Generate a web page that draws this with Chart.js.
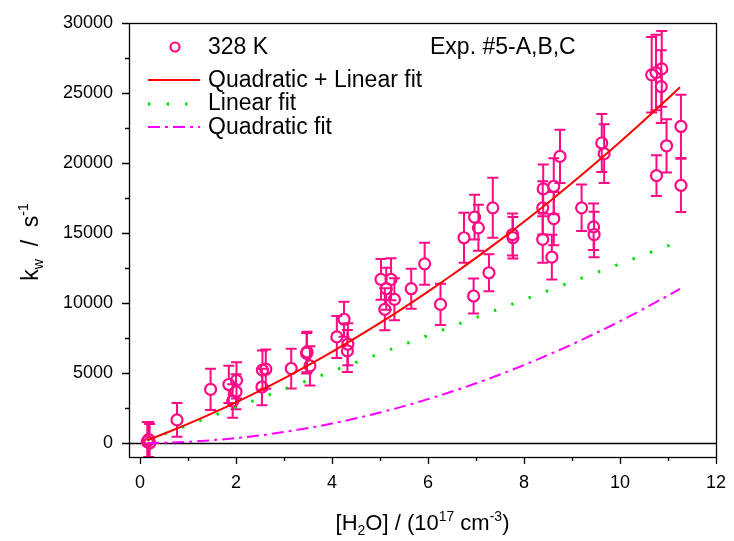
<!DOCTYPE html>
<html><head><meta charset="utf-8">
<script src="https://cdn.jsdelivr.net/npm/chart.js@4/dist/chart.umd.min.js"></script>
<style>html,body{margin:0;padding:0;background:#fff}</style>
</head><body>
<canvas id="c" width="734" height="541"></canvas>
<script>
// ---- data ----
const waterConc = [0.15, 0.18, 0.20, 0.77, 1.47, 1.85, 2.01, 2.00, 1.93, 2.54, 2.55, 2.62, 3.15, 3.47, 3.48, 3.54, 4.10, 4.25, 4.33, 4.32,
  5.02, 5.13, 5.23, 5.10, 5.30, 5.65, 5.93, 6.26, 6.75, 6.97, 7.05, 6.95, 7.27, 7.35, 7.76, 7.77, 8.39, 8.39, 8.40, 8.62, 8.62, 8.58, 8.75,
  9.20, 9.45, 9.46, 9.62, 9.67, 10.66, 10.75, 10.87, 10.86, 10.76, 10.97, 11.27, 11.27];
const kw = [100, 250, 0, 1650, 3830, 4180, 4470, 3660, 3000, 4000, 5200, 5270, 5320, 6410, 6500, 5510, 7575, 8840, 7060, 6580,
  11690, 11020, 11690, 9550, 10260, 11020, 12800, 9900, 14660, 16130, 15370, 10500, 12160, 16800, 14890, 14660, 14540, 16800, 18150, 18340, 16030, 13280, 20470,
  16800, 15440, 14890, 21430, 20670, 26300, 26460, 26720, 25460, 19100, 21230, 22610, 18400];
const kwErr = [1400, 1250, 1350, 1200, 1470, 1330, 1300, 1250, 1200, 1300, 1400, 1400, 1420, 1450, 1450, 1400, 1500, 1250, 1500, 1500,
  1450, 1500, 1500, 1500, 1500, 1430, 1500, 1480, 1780, 1600, 1640, 1250, 1320, 2140, 1500, 1480, 1660, 1900, 1750, 2000, 1900, 1600, 1900,
  1660, 1660, 1620, 2070, 2100, 2700, 2700, 2700, 2600, 1450, 1900, 2260, 1900];
const fitX = [0.15, 0.5, 1, 1.5, 2, 2.5, 3, 3.5, 4, 4.5, 5, 5.5, 6, 6.5, 7, 7.5, 8, 8.5, 9, 9.5, 10, 10.5, 11, 11.25];
const fitQuadLin = [194, 662, 1367, 2116, 2908, 3744, 4623, 5546, 6512, 7522, 8575, 9672, 10812, 11996, 13223, 14494, 15808, 17166, 18567, 20012, 21500, 23032, 24607, 25411];
const fitQuad = [2, 22, 87, 196, 348, 544, 783, 1066, 1392, 1762, 2175, 2632, 3132, 3676, 4263, 4894, 5568, 6286, 7047, 7852, 8700, 9592, 10527, 11011];
const linX = [0.15, 11.2];
const fitLin = [192, 14336];
const xMajorTicks = [0, 2, 4, 6, 8, 10, 12];
const xMinorTicks = [1, 3, 5, 7, 9, 11];
const yMajorTicks = [0, 5000, 10000, 15000, 20000, 25000, 30000];
const yMinorTicks = [2500, 7500, 12500, 17500, 22500, 27500];

const PINK = '#ff0a84';
const FONT = "'Liberation Sans', Arial, sans-serif";

const toPts = (xs, ys) => xs.map((x, i) => ({x: x, y: ys[i]}));

function richText(ctx, parts, x, y, align, base) {
  let w = 0;
  const sized = parts.map(p => {
    const sz = p.mode === 'n' ? base : Math.round(base * 0.62);
    ctx.font = sz + 'px ' + FONT;
    const pw = ctx.measureText(p.t).width;
    w += pw;
    return {p, sz, pw};
  });
  let cx = align === 'center' ? x - w / 2 : x;
  ctx.textBaseline = 'alphabetic';
  ctx.textAlign = 'left';
  sized.forEach(s => {
    ctx.font = s.sz + 'px ' + FONT;
    let dy = 0;
    if (s.p.mode === 'sub') dy = base * 0.23;
    if (s.p.mode === 'sup') dy = -base * 0.42;
    ctx.fillText(s.p.t, cx, y + dy);
    cx += s.pw;
  });
}

const decorPlugin = {
  id: 'decor',
  beforeDatasetsDraw(chart) {
    const ctx = chart.ctx, xs = chart.scales.x, ys = chart.scales.y, a = chart.chartArea;
    ctx.save();
    ctx.beginPath(); ctx.rect(a.left, a.top, a.right - a.left, a.bottom - a.top); ctx.clip();
    // zero line
    ctx.strokeStyle = '#000'; ctx.lineWidth = 1.3;
    const y0 = Math.round(ys.getPixelForValue(0)) + 0.5;
    ctx.beginPath(); ctx.moveTo(a.left, y0); ctx.lineTo(a.right, y0); ctx.stroke();
    // error bars
    ctx.strokeStyle = PINK; ctx.lineWidth = 2;
    const r = 5.5;
    waterConc.forEach((xv, i) => {
      const px = xs.getPixelForValue(xv);
      const cy = ys.getPixelForValue(kw[i]);
      const top = ys.getPixelForValue(kw[i] + kwErr[i]);
      const bot = ys.getPixelForValue(kw[i] - kwErr[i]);
      ctx.beginPath();
      ctx.moveTo(px, top); ctx.lineTo(px, cy - r);
      ctx.moveTo(px, cy + r); ctx.lineTo(px, bot);
      ctx.moveTo(px - 5.5, top); ctx.lineTo(px + 5.5, top);
      ctx.moveTo(px - 5.5, bot); ctx.lineTo(px + 5.5, bot);
      ctx.stroke();
    });
    ctx.restore();
  },
  afterDraw(chart) {
    const ctx = chart.ctx, xs = chart.scales.x, ys = chart.scales.y, a = chart.chartArea;
    ctx.save();
    // frame
    ctx.strokeStyle = '#000'; ctx.lineWidth = 1.3;
    ctx.strokeRect(Math.round(a.left) + 0.5, Math.round(a.top) + 0.5, Math.round(a.right - a.left), Math.round(a.bottom - a.top));
    // ticks
    ctx.beginPath();
    xMajorTicks.forEach(v => { const p = Math.round(xs.getPixelForValue(v)) + 0.5; ctx.moveTo(p, a.bottom); ctx.lineTo(p, a.bottom + 7); });
    xMinorTicks.forEach(v => { const p = Math.round(xs.getPixelForValue(v)) + 0.5; ctx.moveTo(p, a.bottom); ctx.lineTo(p, a.bottom + 4); });
    yMajorTicks.forEach(v => { const p = Math.round(ys.getPixelForValue(v)) + 0.5; ctx.moveTo(a.left, p); ctx.lineTo(a.left - 7, p); });
    yMinorTicks.forEach(v => { const p = Math.round(ys.getPixelForValue(v)) + 0.5; ctx.moveTo(a.left, p); ctx.lineTo(a.left - 4, p); });
    ctx.stroke();
    // axis titles
    ctx.fillStyle = '#000';
    richText(ctx, [{t:'[H', mode:'n'}, {t:'2', mode:'sub'}, {t:'O] / (10', mode:'n'}, {t:'17', mode:'sup'}, {t:' cm', mode:'n'}, {t:'-3', mode:'sup'}, {t:')', mode:'n'}], (a.left + a.right) / 2, 530, 'center', 22);
    ctx.save();
    ctx.translate(38, 242);
    ctx.rotate(-Math.PI / 2);
    richText(ctx, [{t:'k', mode:'n'}, {t:'w', mode:'sub'}, {t:'  /  s', mode:'n'}, {t:'-1', mode:'sup'}], 0, 0, 'center', 23);
    ctx.restore();
    // legend
    ctx.font = '23px ' + FONT; ctx.textBaseline = 'middle'; ctx.textAlign = 'left';
    ctx.strokeStyle = PINK; ctx.lineWidth = 2.2;
    ctx.beginPath(); ctx.arc(175, 47, 4.5, 0, Math.PI * 2); ctx.stroke();
    ctx.fillText('328 K', 208, 48);
    ctx.strokeStyle = '#ff0000'; ctx.lineWidth = 2;
    ctx.beginPath(); ctx.moveTo(148, 80); ctx.lineTo(200, 80); ctx.stroke();
    ctx.fillText('Quadratic + Linear fit', 208, 81);
    ctx.strokeStyle = '#00e000'; ctx.lineWidth = 3; ctx.setLineDash([2.5, 16]);
    ctx.beginPath(); ctx.moveTo(148, 104); ctx.lineTo(200, 104); ctx.stroke();
    ctx.fillText('Linear fit', 208, 104);
    ctx.strokeStyle = '#ff00ff'; ctx.lineWidth = 2; ctx.setLineDash([12, 5, 3, 5]);
    ctx.beginPath(); ctx.moveTo(148, 127); ctx.lineTo(200, 127); ctx.stroke();
    ctx.setLineDash([]);
    ctx.fillText('Quadratic fit', 208, 128);
    ctx.fillText('Exp. #5-A,B,C', 430, 48);
    ctx.restore();
  }
};

new Chart(document.getElementById('c'), {
  type: 'scatter',
  data: {
    datasets: [
      { label: '328 K', data: toPts(waterConc, kw), showLine: false, pointRadius: 5.5, pointHoverRadius: 5.5,
        pointBorderWidth: 2.2, borderColor: PINK, backgroundColor: 'rgba(0,0,0,0)', pointStyle: 'circle', order: 3 },
      { label: 'Quadratic + Linear fit', data: toPts(fitX, fitQuadLin), showLine: true, pointRadius: 0, borderColor: '#ff0000',
        borderWidth: 2, cubicInterpolationMode: 'monotone', order: 1 },
      { label: 'Linear fit', data: toPts(linX, fitLin), showLine: true, pointRadius: 0, borderColor: '#00e000',
        borderWidth: 3, borderDash: [2.5, 16], borderCapStyle: 'butt', order: 2 },
      { label: 'Quadratic fit', data: toPts(fitX, fitQuad), showLine: true, pointRadius: 0, borderColor: '#ff00ff',
        borderWidth: 2, borderDash: [12, 5, 3, 5], cubicInterpolationMode: 'monotone', order: 2 }
    ]
  },
  options: {
    responsive: false, animation: false, devicePixelRatio: 1,
    layout: { padding: { left: 0, top: 23, right: 18, bottom: 0 } },
    plugins: { legend: { display: false }, tooltip: { enabled: false } },
    scales: {
      x: {
        type: 'linear', min: -0.23, max: 12,
        afterBuildTicks: s => { s.ticks = xMajorTicks.map(v => ({value: v})); },
        afterFit: s => { s.height = 84; },
        grid: { drawOnChartArea: false, drawTicks: true, tickLength: 7, color: 'rgba(0,0,0,0)' },
        border: { display: false },
        ticks: { color: '#000', font: { family: FONT, size: 18 }, padding: 8, maxRotation: 0, callback: v => String(v) }
      },
      y: {
        type: 'linear', min: -1000, max: 30000,
        afterBuildTicks: s => { s.ticks = yMajorTicks.map(v => ({value: v})); },
        afterFit: s => { s.width = 129; },
        grid: { drawOnChartArea: false, drawTicks: true, tickLength: 7, color: 'rgba(0,0,0,0)' },
        border: { display: false },
        ticks: { color: '#000', font: { family: FONT, size: 18 }, padding: 9, callback: v => String(v) }
      }
    }
  },
  plugins: [decorPlugin]
});
</script>
</body></html>
